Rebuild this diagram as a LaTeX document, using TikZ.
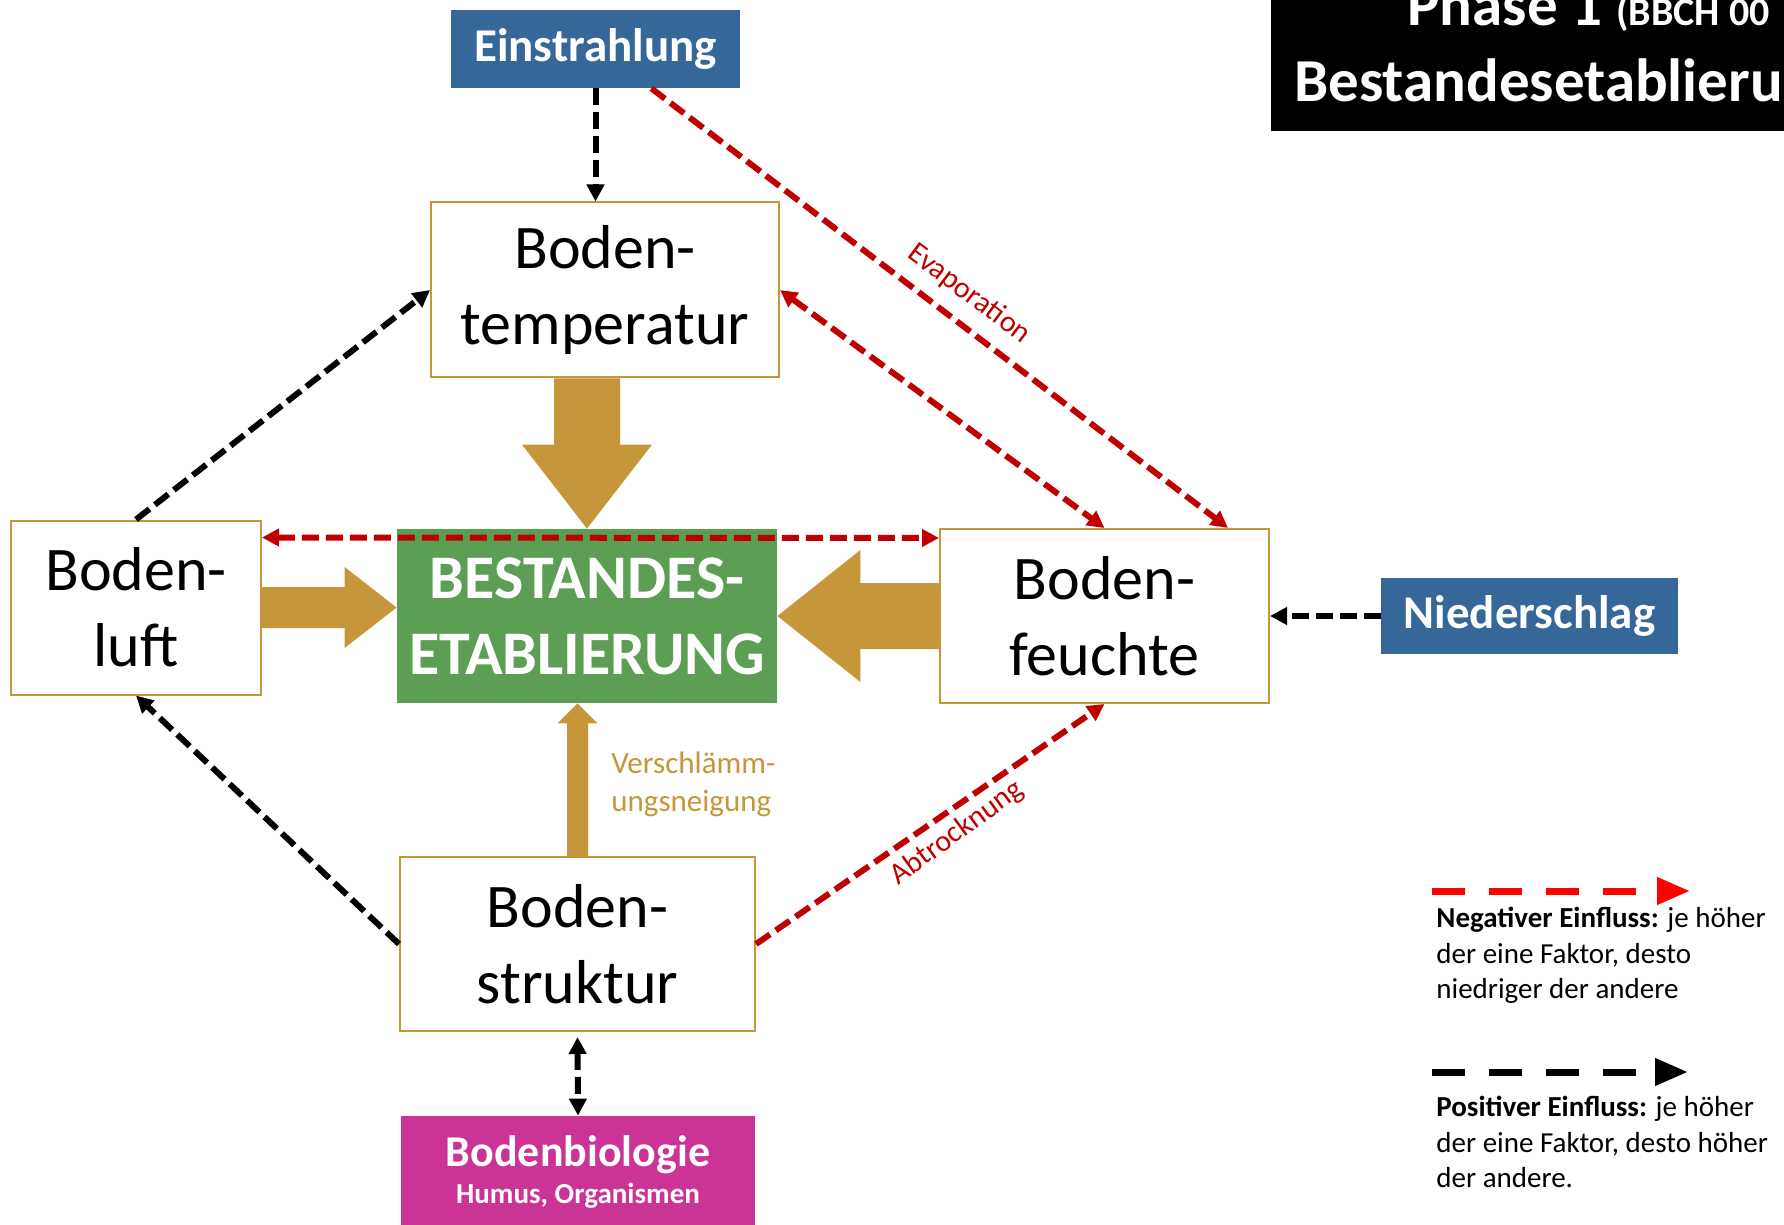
\documentclass[tikz,border=0pt]{standalone}
\usepackage{fontspec}
\setmainfont{Carlito}
\usetikzlibrary{calc,arrows.meta}

\definecolor{gold}{RGB}{197,150,58}
\definecolor{leaf}{RGB}{92,158,84}
\definecolor{sky}{RGB}{53,104,153}
\definecolor{berry}{RGB}{203,51,150}
\definecolor{negred}{RGB}{192,0,0}

\begin{document}
\begin{tikzpicture}
    [x=0.5pt,y=-0.5pt,
      >={Triangle[length=8.5pt,width=8.5pt]},
      box/.style={shape=rectangle,inner sep=0pt,align=center},
      factor/.style={box,draw=gold,line width=1pt,fill=white,
        font=\fontsize{31}{38}\selectfont},
      driver/.style={box,fill=sky,text=white,
        font=\fontsize{23.5}{28}\selectfont\bfseries},
      plus/.style={draw=black,line width=3pt,dash pattern=on 8.5pt off 3.5pt,->},
      minus/.style={plus,draw=negred},
      lbl/.style={inner sep=0pt,text=negred,font=\fontsize{15}{18}\selectfont},
      legtext/.style={inner sep=0pt,align=left,anchor=north west,
        font=\fontsize{14.5}{17.75}\selectfont}]
    \useasboundingbox (0,0) rectangle (1784,1225);
    \clip (0,0) rectangle (1784,1225);

    % title
    \fill[black] (1271,0) rectangle (1790,131);
    \node[anchor=base west,inner sep=0pt,text=white,
          font=\fontsize{30.5}{36}\selectfont\bfseries] (phase) at (1407,26)
          {Phase 1 {\fontsize{20}{24}\selectfont (BBCH 00}};
    \node[anchor=base west,inner sep=0pt,text=white,
          font=\fontsize{30.5}{36}\selectfont\bfseries] (title) at (1294,102)
          {Bestandesetablierung};

    % boxes
    \node[driver,minimum width=144.5pt,minimum height=39pt] (einstr) at (595.5,49) {Einstrahlung};
    \node[driver,minimum width=148.5pt,minimum height=38pt] (nieder) at (1529.5,616) {Niederschlag};
    \node[factor,minimum width=174pt,minimum height=87.5pt] (temp) at (605,290) {Boden-\\temperatur};
    \node[factor,minimum width=125pt,minimum height=87pt] (luft) at (136,607.5) {Boden-\\luft};
    \node[factor,minimum width=164.5pt,minimum height=87pt] (feuchte) at (1104.5,616) {Boden-\\feuchte};
    \node[factor,minimum width=177.5pt,minimum height=87pt] (struktur) at (577.5,944) {Boden-\\struktur};
    \node[box,fill=leaf,text=white,minimum width=190pt,minimum height=87pt,
          font=\fontsize{31}{38}\selectfont\bfseries] (etab) at (587,616) {BESTANDES-\\ETABLIERUNG};
    \node[box,fill=berry,text=white,minimum width=177pt,minimum height=56pt] (biolog) at (578,1172)
          {{\fontsize{22}{26}\selectfont\bfseries Bodenbiologie}\\[4pt]
           {\fontsize{14.5}{17}\selectfont\bfseries Humus, Organismen}};

    % main influences
    \fill[gold] ($(etab.north |- temp.south)+(-33,0)$) -- ($(etab.north |- temp.south)+(33,0)$)
      -- ($(etab.north)+(33,-84)$) -- ($(etab.north)+(65,-84)$) -- (etab.north)
      -- ($(etab.north)+(-65,-84)$) -- ($(etab.north)+(-33,-84)$) -- cycle;
    \fill[gold] ($(luft.east)+(0,-20.5)$) -- ($(etab.west |- luft.east)+(-52,-20.5)$)
      -- ($(etab.west |- luft.east)+(-52,-40.5)$) -- (etab.west |- luft.east)
      -- ($(etab.west |- luft.east)+(-52,40.5)$) -- ($(etab.west |- luft.east)+(-52,20.5)$)
      -- ($(luft.east)+(0,20.5)$) -- cycle;
    \fill[gold] ($(feuchte.west)+(0,-33)$) -- ($(etab.east)+(83,-33)$)
      -- ($(etab.east)+(83,-66)$) -- (etab.east) -- ($(etab.east)+(83,66)$)
      -- ($(etab.east)+(83,33)$) -- ($(feuchte.west)+(0,33)$) -- cycle;
    \fill[gold] ($(struktur.north)+(-10.5,0)$) -- ($(struktur.north |- etab.south)+(-10.5,20)$)
      -- ($(struktur.north |- etab.south)+(-20,20)$) -- (struktur.north |- etab.south)
      -- ($(struktur.north |- etab.south)+(20,20)$) -- ($(struktur.north |- etab.south)+(10.5,20)$)
      -- ($(struktur.north)+(10.5,0)$) -- cycle;
    \node[inner sep=0pt,anchor=north west,align=left,text=gold,
          font=\fontsize{15.5}{19}\selectfont] (verschl) at (611,752) {Verschlämm-\\ungsneigung};

    % interactions
    \draw[plus] (einstr.south) -- (einstr.south |- temp.north);
    \draw[minus] ($(einstr.south east)+(-89,0)$) -- ($(feuchte.north east)+(-42,0)$);
    \draw[minus,<->] (temp.east) -- (feuchte.north);
    \draw[plus] (luft.north) -- (temp.west);
    \draw[plus] (struktur.west) -- (luft.south);
    \draw[minus,<->] ($(luft.north east)+(0,18)$) -- ($(feuchte.north west)+(0,10)$);
    \draw[plus] (nieder) -- (feuchte);
    \draw[minus] (struktur.east) -- (feuchte.south);
    \draw[plus,<->] ($(struktur.south)+(0,5)$) -- (biolog.north);
    \node[lbl,rotate=-37] (evap) at (969,294) {Evaporation};
    \node[lbl,rotate=36] (abtr) at (957,833) {Abtrocknung};

    % legend
    \coordinate (negA) at (1432,891);
    \coordinate (negB) at (1690,891);
    \coordinate (posA) at (1432,1072);
    \coordinate (posB) at (1688,1072);
    \draw[red,line width=3.5pt,dash pattern=on 16.5pt off 12pt,
          -{Triangle[length=16.5pt,width=13pt]}] (negA) -- (negB);
    \draw[black,line width=3.5pt,dash pattern=on 16.5pt off 12pt,
          -{Triangle[length=16.5pt,width=13pt]}] (posA) -- (posB);
    \node[legtext] (negtext) at (1436,907)
          {\textbf{Negativer Einfluss:} je höher\\der eine Faktor, desto\\niedriger der andere};
    \node[legtext] (postext) at (1436,1096)
          {\textbf{Positiver Einfluss:} je höher\\der eine Faktor, desto höher\\der andere.};
\end{tikzpicture}
\end{document}
